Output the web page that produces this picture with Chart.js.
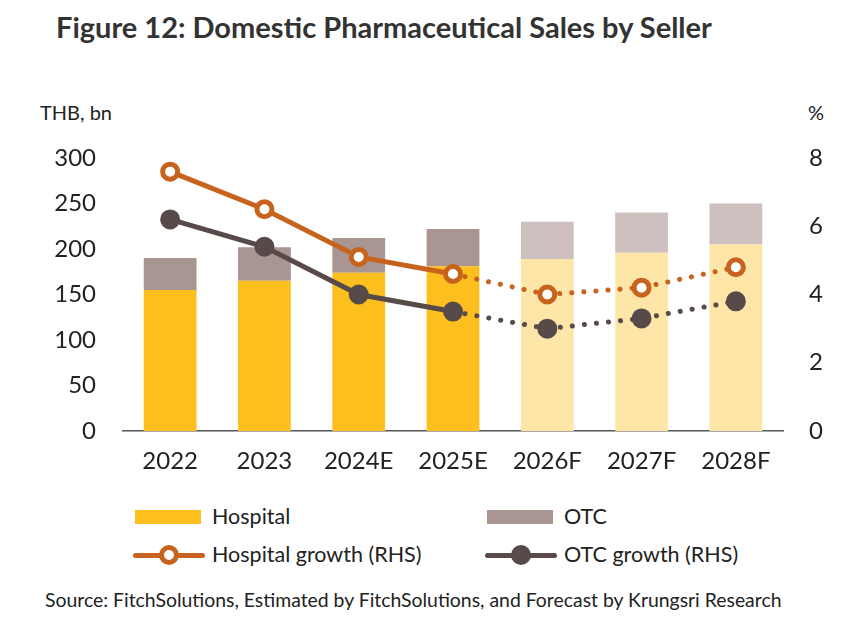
<!DOCTYPE html>
<html>
<head>
<meta charset="utf-8">
<script src="https://cdn.jsdelivr.net/npm/chart.js@4"></script>
<style>
  body { margin: 0; background: #fff; font-family: Lato, sans-serif; color: #222; }
  #wrap { position: relative; width: 855px; height: 638px; overflow: hidden; }
  #titulo { position: absolute; left: 56px; top: 9px; font-size: 29px; font-weight: bold; color: #333; white-space: nowrap; }
  .eixo { position: absolute; font-size: 20px; white-space: nowrap; }
  #grafico { position: absolute; left: 0; top: 0; }
  .leg { position: absolute; font-size: 21.5px; white-space: nowrap; line-height: 26px; }
  .caixa { position: absolute; height: 14px; width: 66px; }
  .linha { position: absolute; height: 5px; width: 72px; border-radius: 3px; }
  .marca { position: absolute; border-radius: 50%; box-sizing: border-box; }
  #fonte { position: absolute; left: 45px; top: 588px; font-size: 19.4px; white-space: nowrap; }
</style>
</head>
<body>
<div id="wrap">
  <div id="titulo">Figure 12: Domestic Pharmaceutical Sales by Seller</div>
  <div class="eixo" style="left:40px; top:100px;">THB, bn</div>
  <div class="eixo" style="left:808px; top:100px;">%</div>
  <canvas id="grafico" width="855" height="500"></canvas>
  <div id="legenda"></div>
  <div id="fonte">Source: FitchSolutions, Estimated by FitchSolutions, and Forecast by Krungsri Research</div>
</div>
<script>
// dados
const anos = ['2022', '2023', '2024E', '2025E', '2026F', '2027F', '2028F'];
const hospital = [155, 165, 174, 181, 189, 196, 205];
const otc = [35, 37, 38, 41, 41, 44, 45];
const crescHospital = [7.6, 6.5, 5.1, 4.6, 4.0, 4.2, 4.8];
const crescOtc = [6.2, 5.4, 4.0, 3.5, 3.0, 3.3, 3.8];
const ticksEsq = [0, 50, 100, 150, 200, 250, 300];
const ticksDir = [0, 2, 4, 6, 8];

const cores = {
    hospital: '#FDBF1E',
    hospitalPrev: '#FDE6A7',
    otc: '#A99592',
    otcPrev: '#CDC0BE',
    linhaHosp: '#C8631D',
    linhaOtc: '#574A48'
};

const ehPrevisao = anos.map(a => a.endsWith('F'));
const ultimoReal = 3; // a partir de 2025E a linha vira pontilhada

const pontilhado = ctx => ctx.p0DataIndex >= ultimoReal ? [0.1, 12] : undefined;

const grafico = new Chart(document.getElementById('grafico'), {
    type: 'bar',
    data: {
        labels: anos,
        datasets: [
            {
                label: 'Hospital',
                data: hospital,
                backgroundColor: ehPrevisao.map(p => p ? cores.hospitalPrev : cores.hospital),
                stack: 'vendas',
                yAxisID: 'y',
                order: 2,
                barPercentage: 0.56,
                categoryPercentage: 1
            },
            {
                label: 'OTC',
                data: otc,
                backgroundColor: ehPrevisao.map(p => p ? cores.otcPrev : cores.otc),
                stack: 'vendas',
                yAxisID: 'y',
                order: 2,
                barPercentage: 0.56,
                categoryPercentage: 1
            },
            {
                type: 'line',
                label: 'Hospital growth (RHS)',
                data: crescHospital,
                yAxisID: 'y1',
                order: 0,
                borderColor: cores.linhaHosp,
                borderWidth: 5,
                borderCapStyle: 'round',
                segment: { borderDash: pontilhado },
                pointRadius: 7.5,
                pointBorderWidth: 5,
                pointBackgroundColor: '#fff',
                pointBorderColor: cores.linhaHosp
            },
            {
                type: 'line',
                label: 'OTC growth (RHS)',
                data: crescOtc,
                yAxisID: 'y1',
                order: 1,
                borderColor: cores.linhaOtc,
                borderWidth: 5,
                borderCapStyle: 'round',
                segment: { borderDash: pontilhado },
                pointRadius: 9,
                pointBorderWidth: 2,
                pointBackgroundColor: cores.linhaOtc,
                pointBorderColor: cores.linhaOtc
            }
        ]
    },
    options: {
        responsive: false,
        animation: false,
        layout: { padding: { top: 158, left: 0, right: 0, bottom: 0 } },
        plugins: { legend: { display: false }, tooltip: { enabled: false } },
        scales: {
            x: {
                stacked: true,
                grid: { display: false, drawTicks: false },
                border: { display: true, color: '#555', width: 1.5 },
                ticks: { color: '#222', font: { family: 'Lato', size: 24 }, padding: 16 },
                afterFit: s => { s.height = 69; }
            },
            y: {
                stacked: true,
                min: 0,
                max: 300,
                position: 'left',
                grid: { display: false, drawTicks: false },
                border: { display: false },
                afterBuildTicks: s => { s.ticks = ticksEsq.map(v => ({ value: v })); },
                ticks: { color: '#222', font: { family: 'Lato', size: 24 }, padding: 27 },
                afterFit: s => { s.width = 123; }
            },
            y1: {
                min: 0,
                max: 8,
                position: 'right',
                grid: { display: false, drawTicks: false },
                border: { display: false },
                afterBuildTicks: s => { s.ticks = ticksDir.map(v => ({ value: v })); },
                ticks: { color: '#222', font: { family: 'Lato', size: 24 }, padding: 26 },
                afterFit: s => { s.width = 72; }
            }
        }
    }
});

// Legenda em HTML (duas colunas)
const legenda = document.getElementById('legenda');
const itens = [
    { tipo: 'caixa', cor: cores.hospital, texto: grafico.data.datasets[0].label, x: 135, y: 517 },
    { tipo: 'caixa', cor: cores.otc, texto: grafico.data.datasets[1].label, x: 487, y: 517 },
    { tipo: 'oco', cor: cores.linhaHosp, texto: grafico.data.datasets[2].label, x: 133, y: 555 },
    { tipo: 'cheio', cor: cores.linhaOtc, texto: grafico.data.datasets[3].label, x: 485, y: 555 }
];
itens.forEach(it => {
    if (it.tipo === 'caixa') {
        const c = document.createElement('div');
        c.className = 'caixa';
        c.style.left = it.x + 'px';
        c.style.top = (it.y - 7) + 'px';
        c.style.background = it.cor;
        legenda.appendChild(c);
    } else {
        const l = document.createElement('div');
        l.className = 'linha';
        l.style.left = it.x + 'px';
        l.style.top = (it.y - 2.5) + 'px';
        l.style.background = it.cor;
        legenda.appendChild(l);
        const m = document.createElement('div');
        m.className = 'marca';
        const r = 10;
        m.style.width = m.style.height = (2 * r) + 'px';
        m.style.left = (it.x + 36 - r) + 'px';
        m.style.top = (it.y - r) + 'px';
        if (it.tipo === 'oco') {
            m.style.background = '#fff';
            m.style.border = '5px solid ' + it.cor;
        } else {
            m.style.background = it.cor;
        }
        legenda.appendChild(m);
    }
    const t = document.createElement('div');
    t.className = 'leg';
    t.textContent = it.texto;
    t.style.left = (it.tipo === 'caixa' ? it.x + 77 : it.x + 79) + 'px';
    t.style.top = (it.y - 14) + 'px';
    legenda.appendChild(t);
});
</script>
</body>
</html>
